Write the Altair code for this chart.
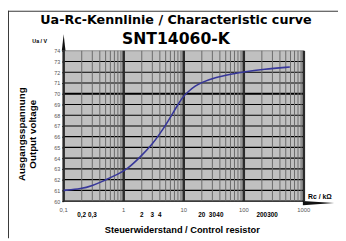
import altair as alt
import pandas as pd

# ---- data ----
r_vals = [0.1, 0.2, 0.3, 0.45, 0.6, 0.78, 1.14, 1.88, 3.1, 3.97, 5.1, 6.55, 7.9, 9.5,
          11.5, 15.7, 20, 33, 62, 102, 215, 585]
u_vals = [61.0, 61.15, 61.45, 61.85, 62.2, 62.48, 62.96, 64.09, 65.4, 66.25, 67.15, 68.18,
          68.94, 69.65, 70.15, 70.75, 71.06, 71.51, 71.82, 72.06, 72.28, 72.49]

y_ticks = list(range(60, 75))
decades = [0.1, 1, 10, 100, 1000]
decade_labels = ["0,1", "1", "10", "100", "1000"]
minor_label_pos = [0.2, 0.3, 2, 3, 4, 20, 30, 40, 200, 300]
minor_labels = ["0,2", "0,3", "2", "3", "4", "20", "30", "40", "200", "300"]

W, H = 246, 154
xs = alt.Scale(type="log", domain=[0.1, 1000], nice=False)
ys = alt.Scale(domain=[60, 74], nice=False, zero=False)

minor_pos = [k * d for d in decades[:-1] for k in range(2, 10)]
one = pd.DataFrame({"a": [0]})

yaxis = alt.Axis(values=y_ticks, labelFontSize=5.5, labelColor="#555555", labelFont="Liberation Sans",
                 tickSize=2, tickColor="#000000", domain=False, grid=False, labelPadding=2,
                 title=None)

def xr(field="r"):
    return alt.X(f"{field}:Q", scale=xs, axis=None)

def yr(field="v"):
    return alt.Y(f"{field}:Q", scale=ys, axis=yaxis)

minor = alt.Chart(pd.DataFrame({"r": minor_pos})).mark_rule(
    color="#6a6a6a", strokeWidth=1).encode(x=xr(), y=alt.value(0), y2=alt.value(H))

decade = alt.Chart(pd.DataFrame({"r": decades})).mark_rule(
    color="#2b2b2b", strokeWidth=2.6).encode(x=xr(), y=alt.value(0), y2=alt.value(H))

h_regular = [v for v in y_ticks if v not in (70, 74)]
hgrid = alt.Chart(pd.DataFrame({"v": h_regular})).mark_rule(
    color="#000000", strokeWidth=1.2).encode(y=yr(), x=alt.value(0), x2=alt.value(W))
h70 = alt.Chart(pd.DataFrame({"v": [70]})).mark_rule(
    color="#000000", strokeWidth=2.2).encode(y=yr(), x=alt.value(0), x2=alt.value(W))
h74 = alt.Chart(pd.DataFrame({"v": [74]})).mark_rule(
    color="#8c8c8c", strokeWidth=1).encode(y=yr(), x=alt.value(0), x2=alt.value(W))

curve = alt.Chart(pd.DataFrame({"r": r_vals, "v": u_vals})).mark_line(
    color="#37379a", strokeWidth=1.6, interpolate="basis").encode(x=xr(), y=yr())

yarrow = alt.Chart(one).mark_point(
    shape="M -0.22 1 L 0 -1 L 0.22 1 Z", filled=True, opacity=1, color="#111111", size=289
).encode(x=alt.value(0), y=alt.value(-8.5))
xarrow = alt.Chart(one).mark_point(
    shape="M -1 -0.13 L 1 0 L -1 0.13 Z", filled=True, opacity=1, color="#111111", size=1024
).encode(x=alt.value(261), y=alt.value(156))

dec_text = alt.Chart(pd.DataFrame({"r": decades, "lab": decade_labels})).mark_text(
    font="Liberation Sans", fontSize=6, color="#555555", baseline="alphabetic"
).encode(x=xr(), y=alt.value(165), text="lab:N")
min_text = alt.Chart(pd.DataFrame({"r": minor_label_pos, "lab": minor_labels})).mark_text(
    font="Liberation Sans", fontSize=6.5, fontWeight="bold", color="#000000", baseline="alphabetic"
).encode(x=xr(), y=alt.value(170), text="lab:N")

def label(txt, x, y, size, font="Liberation Sans", angle=0, color="#000000"):
    kw = dict(text=txt, font=font, fontSize=size, fontWeight="bold", color=color,
              align="center", baseline="alphabetic")
    if angle:
        kw["angle"] = angle
    return alt.Chart(one).mark_text(**kw).encode(x=alt.value(x), y=alt.value(y))

t1 = label("Ua-Rc-Kennlinie / Characteristic curve", 115, -27, 13, font="DejaVu Sans")
t2 = label("SNT14060-K", 115, -6.5, 16, font="DejaVu Sans")
tua = label("Ua / V", -24.5, -8, 5.5)
trc = label("Rc / kΩ", 262.5, 152, 7)
ty1 = label("Ausgangsspannung", -40, 85.5, 10, angle=270)
ty2 = label("Output voltage", -28.5, 85.5, 10, angle=270)
tx = label("Steuerwiderstand / Control resistor", 121.5, 186.5, 9.5)

frame_l = alt.Chart(one).mark_rule(color="#333333", strokeWidth=1).encode(
    x=alt.value(-56.5), y=alt.value(-41), y2=alt.value(192))
frame_t = alt.Chart(one).mark_rule(color="#333333", strokeWidth=1).encode(
    y=alt.value(-40.5), x=alt.value(-57), x2=alt.value(281))

chart = alt.layer(
    hgrid, h70, h74, minor, decade, curve, yarrow, xarrow,
    dec_text, min_text, t1, t2, tua, trc, ty1, ty2, tx, frame_l, frame_t
).properties(
    width=W, height=H,
    autosize=alt.AutoSizeParams(type="none"),
    padding={"left": 57, "top": 41, "right": 35, "bottom": 38},
    background="#ffffff",
).configure_view(fill="#c0c0c0", stroke=None)

chart.save("out.html", embed_options={"renderer": "svg", "actions": False})
